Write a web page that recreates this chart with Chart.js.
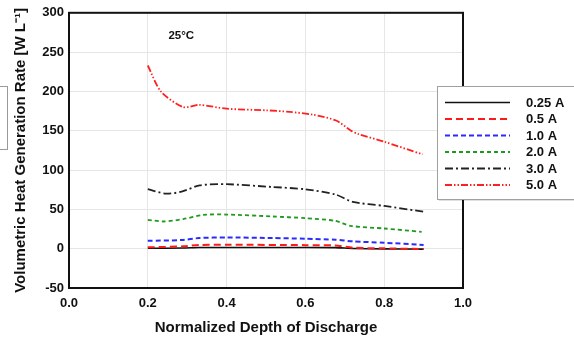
<!DOCTYPE html>
<html>
<head>
<meta charset="utf-8">
<script src="https://cdn.jsdelivr.net/npm/chart.js@4"></script>
<style>
html,body{margin:0;padding:0;background:#fff;overflow:hidden;}
#wrap{position:relative;width:574px;height:347px;}
#stray{position:absolute;left:-2px;top:86px;width:9px;height:62px;border:1px solid #9a9a9a;border-left:none;}
canvas{position:absolute;left:0;top:0;}
</style>
</head>
<body>
<div id="wrap">
<div id="stray"></div>
<canvas id="c" width="574" height="347"></canvas>
</div>
<script>
// Series labels
const seriesLabels = ["0.25 A", "0.5 A", "1.0 A", "2.0 A", "3.0 A", "5.0 A"];

// Normalized depth of discharge (x) and volumetric heat generation rate (y) per series
const dod025 = [0.2, 0.29, 0.33, 0.60, 0.676, 0.72, 0.80, 0.90];
const rate025 = [0.5, 0.8, 1.5, 1.5, 1.3, 0.3, -0.3, -0.5];

const dod05 = [0.2, 0.29, 0.33, 0.40, 0.60, 0.676, 0.72, 0.80, 0.90];
const rate05 = [1.7, 3.0, 4.7, 5.0, 4.5, 4.0, 1.3, 0.4, -0.4];

const dod10 = [0.2, 0.286, 0.33, 0.40, 0.516, 0.60, 0.676, 0.72, 0.80, 0.90];
const rate10 = [10, 11, 13.5, 14.3, 13.5, 12.7, 11.4, 9.3, 7.6, 4.7];

const dod20 = [0.2, 0.24, 0.29, 0.34, 0.40, 0.516, 0.60, 0.676, 0.715, 0.80, 0.895];
const rate20 = [36.7, 34.6, 37.6, 43, 43.4, 41, 38.8, 35.4, 29, 25.7, 21.5];

const dod30 = [0.2, 0.246, 0.286, 0.332, 0.40, 0.516, 0.60, 0.676, 0.72, 0.80, 0.90];
const rate30 = [75.6, 70, 72.5, 80.6, 82, 78.5, 75.6, 69, 59.5, 54.4, 47];

const dod50 = [0.2, 0.233, 0.29, 0.33, 0.40, 0.50, 0.56, 0.618, 0.678, 0.716, 0.733, 0.80, 0.897];
const rate50 = [233, 200, 180, 183, 178, 176, 174, 170.5, 163, 150, 146, 136, 120];

// Axis ticks
const xTicks = [0.0, 0.2, 0.4, 0.6, 0.8, 1.0];
const yTicks = [-50, 0, 50, 100, 150, 200, 250, 300];

const annotationText = "25°C";

function pts(xs, ys){ return xs.map((x,i)=>({x:x, y:ys[i]})); }

const styles = [
  {color:'#111111', dash:[], width:1.6},
  {color:'#ff1a1a', dash:[7,4], width:2},
  {color:'#2b2bff', dash:[5,3], width:2},
  {color:'#1f9a1f', dash:[4,3], width:1.8},
  {color:'#222222', dash:[8,3,2,3], width:1.8},
  {color:'#ff2020', dash:[7,2,1.5,2,1.5,2], width:1.8}
];
const xsAll = [dod025, dod05, dod10, dod20, dod30, dod50];
const ysAll = [rate025, rate05, rate10, rate20, rate30, rate50];

const datasets = seriesLabels.map((lab,i)=>({
  label: lab,
  data: pts(xsAll[i], ysAll[i]),
  borderColor: styles[i].color,
  borderDash: styles[i].dash,
  borderWidth: styles[i].width,
  showLine: true,
  pointRadius: 0,
  tension: 0.25,
  fill: false,
  order: 5 - i
}));

const FONT = "'Liberation Sans', Arial, sans-serif";

const framePlugin = {
  id: 'frame',
  afterDraw(chart){
    const ctx = chart.ctx;
    const a = chart.chartArea;
    ctx.save();
    ctx.strokeStyle = '#111';
    ctx.lineWidth = 2;
    ctx.setLineDash([]);
    ctx.strokeRect(a.left, a.top, a.right - a.left, a.bottom - a.top);
    // annotation
    ctx.fillStyle = '#111';
    ctx.font = "bold 11.5px " + FONT;
    ctx.textAlign = 'center';
    ctx.textBaseline = 'middle';
    const xs = chart.scales.x, ys = chart.scales.y;
    ctx.fillText(annotationText, xs.getPixelForValue(0.285), ys.getPixelForValue(271));
    // legend
    const bx = 437, by = 86, bw = 150, bh = 113;
    ctx.fillStyle = 'rgba(0,0,0,0.12)';
    ctx.fillRect(bx + 2, by + 2, bw, bh);
    ctx.fillStyle = '#fff';
    ctx.fillRect(bx, by, bw, bh);
    ctx.strokeStyle = '#a0a0a0';
    ctx.lineWidth = 1;
    ctx.strokeRect(bx + 0.5, by + 0.5, bw, bh);
    ctx.font = "bold 13px " + FONT;
    ctx.textAlign = 'left';
    chart.data.datasets.forEach((ds, i) => {
      const y = 102.5 + i * 16.5;
      ctx.strokeStyle = ds.borderColor;
      ctx.lineWidth = ds.borderWidth;
      ctx.setLineDash(ds.borderDash);
      ctx.beginPath();
      ctx.moveTo(445, y);
      ctx.lineTo(510, y);
      ctx.stroke();
      ctx.setLineDash([]);
      ctx.fillStyle = '#111';
      ctx.fillText(ds.label, 526, y + 0.5);
    });
    ctx.restore();
  }
};

new Chart(document.getElementById('c'), {
  type: 'scatter',
  data: { datasets },
  options: {
    responsive: false,
    animation: false,
    events: [],
    layout: { padding: { left: 0, right: 111, top: 11, bottom: 0 } },
    plugins: { legend: { display: false }, tooltip: { enabled: false } },
    scales: {
      x: {
        type: 'linear',
        min: 0, max: 1,
        afterFit(s){ s.height = 59; },
        afterBuildTicks(s){ s.ticks = xTicks.map(v => ({value: v})); },
        grid: { color: '#e6e6e6', lineWidth: 1, drawTicks: false },
        border: { display: false },
        ticks: {
          padding: 8,
          color: '#111',
          font: { family: FONT, size: 13, weight: 'bold' },
          callback: v => v.toFixed(1)
        },
        title: {
          display: true,
          text: 'Normalized Depth of Discharge',
          color: '#111',
          font: { family: FONT, size: 15, weight: 'bold' },
          padding: { top: 0, bottom: 10 }
        }
      },
      y: {
        type: 'linear',
        min: -50, max: 300,
        afterFit(s){ s.width = 69; },
        afterBuildTicks(s){ s.ticks = yTicks.map(v => ({value: v})); },
        grid: { color: '#e6e6e6', lineWidth: 1, drawTicks: false },
        border: { display: false },
        ticks: {
          padding: 5,
          color: '#111',
          font: { family: FONT, size: 13, weight: 'bold' },
          callback: v => String(v)
        },
        title: {
          display: true,
          text: 'Volumetric Heat Generation Rate [W L\u207B\u00B9]',
          color: '#111',
          font: { family: FONT, size: 15, weight: 'bold' },
          padding: { top: 12, bottom: 0 }
        }
      }
    }
  },
  plugins: [framePlugin]
});
</script>
</body>
</html>
